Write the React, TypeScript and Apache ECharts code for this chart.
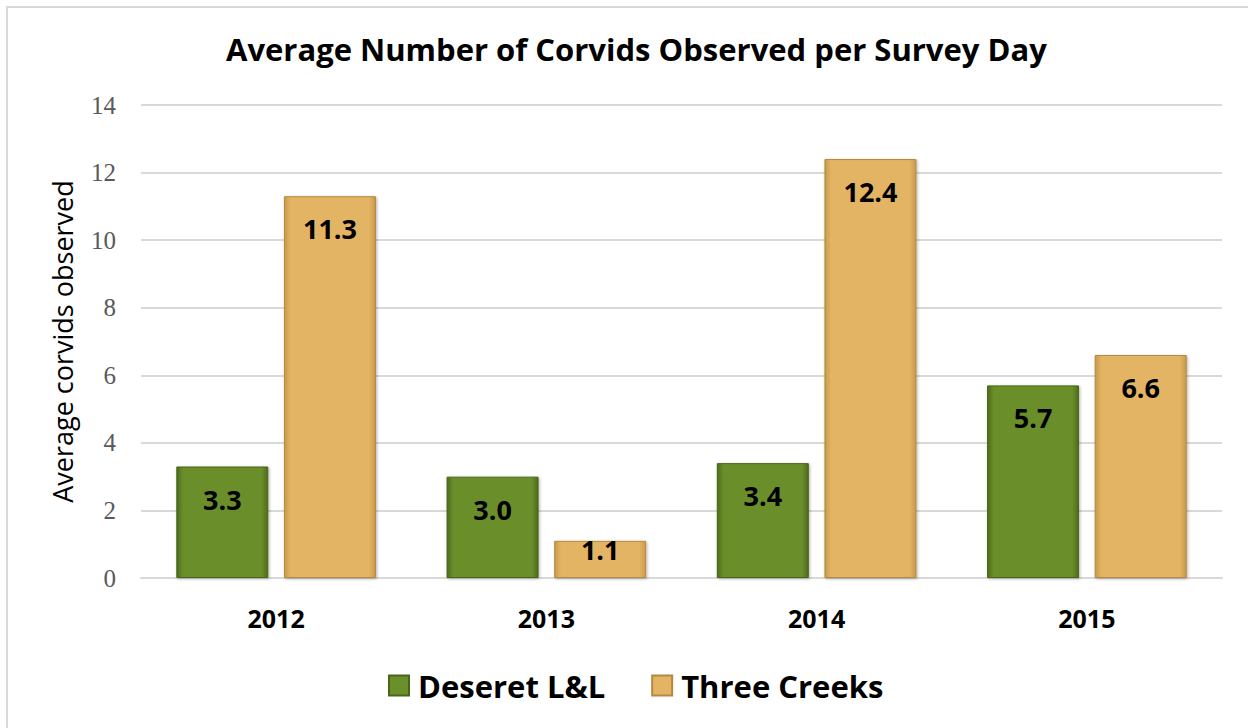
import React, { useEffect, useRef } from "react";
import * as echarts from "echarts";

const years = ["2012", "2013", "2014", "2015"];
const deseret = [3.3, 3.0, 3.4, 5.7];
const threeCreeks = [11.3, 1.1, 12.4, 6.6];
const seriesNames = ["Deseret L&L", "Three Creeks"];

const FONT = "'Open Sans', 'Noto Sans', sans-serif";

function bevel(edge: string, mid: string) {
  return new echarts.graphic.LinearGradient(0, 0, 1, 0, [
    { offset: 0, color: edge },
    { offset: 0.07, color: mid },
    { offset: 0.93, color: mid },
    { offset: 1, color: edge },
  ]);
}

function withLabelFix(values: number[]) {
  // short bars push the label up against the bar's top edge
  return values.map((v) => (v < 2 ? { value: v, label: { distance: -5 } } : v));
}

export default function App() {
  const ref = useRef<HTMLDivElement>(null);
  useEffect(() => {
    const chart = echarts.init(ref.current!, null, { renderer: "svg" });
    const label = {
      show: true,
      position: "insideTop",
      distance: 19,
      color: "#000",
      fontFamily: FONT,
      fontWeight: "bold",
      fontSize: 27,
      formatter: (p: any) => Number(p.value).toFixed(1),
    };
    chart.setOption({
      animation: false,
      backgroundColor: "#fff",
      title: {
        text: "Average Number of Corvids Observed per Survey Day",
        left: 221,
        top: 28,
        textStyle: { fontFamily: FONT, fontWeight: "bold", fontSize: 31, color: "#000" },
      },
      graphic: [
        {
          type: "rect",
          shape: { x: 7, y: 7, width: 1300, height: 800 },
          style: { fill: "none", stroke: "#d9d9d9", lineWidth: 2 },
          silent: true,
        },
      ],
      legend: {
        bottom: 22,
        left: 383,
        itemWidth: 20,
        itemHeight: 20,
        itemGap: 46,
        icon: "rect",
        textStyle: { fontFamily: FONT, fontWeight: "bold", fontSize: 31, color: "#000", padding: [0, 0, 0, 4] },
        data: seriesNames,
      },
      grid: { left: 141, right: 26, top: 105, bottom: 150 },
      xAxis: {
        type: "category",
        data: years,
        axisLine: { show: true, lineStyle: { color: "#d9d9d9", width: 2 } },
        axisTick: { show: false },
        axisLabel: { fontFamily: FONT, fontWeight: "bold", fontSize: 25, color: "#000", margin: 27 },
      },
      yAxis: {
        type: "value",
        min: 0,
        max: 14,
        interval: 2,
        name: "Average corvids observed",
        nameLocation: "middle",
        nameGap: 65,
        nameTextStyle: { fontFamily: FONT, fontSize: 27, color: "#000" },
        axisLine: { show: false },
        axisTick: { show: false },
        axisLabel: { fontFamily: "'Liberation Serif', serif", fontSize: 25, color: "#595959", margin: 25 },
        splitLine: { lineStyle: { color: "#d9d9d9", width: 2 } },
      },
      series: [
        {
          name: seriesNames[0],
          type: "bar",
          data: withLabelFix(deseret),
          barWidth: 92,
          barGap: "17%",
          itemStyle: {
            color: bevel("#4e6b1c", "#6a8f2b"),
            borderColor: "#4a6519",
            borderWidth: 1,
            shadowColor: "rgba(0,0,0,0.3)",
            shadowBlur: 3,
            shadowOffsetX: 1,
            shadowOffsetY: 1,
          },
          label,
        },
        {
          name: seriesNames[1],
          type: "bar",
          data: withLabelFix(threeCreeks),
          barWidth: 92,
          itemStyle: {
            color: bevel("#c99a4a", "#e3b463"),
            borderColor: "#b48940",
            borderWidth: 1,
            shadowColor: "rgba(0,0,0,0.3)",
            shadowBlur: 3,
            shadowOffsetX: 1,
            shadowOffsetY: 1,
          },
          label,
        },
      ],
    });
    return () => chart.dispose();
  }, []);
  return (
    <div
      ref={ref}
      style={{ position: "fixed", left: 0, top: 0, width: 1248, height: 728 }}
    />
  );
}
